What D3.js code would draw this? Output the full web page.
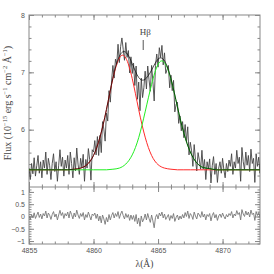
<!DOCTYPE html>
<html>
<head>
<meta charset="utf-8">
<script src="https://cdn.jsdelivr.net/npm/d3@7"></script>
<style>
  body { margin: 0; background: #fff; }
  .tick text { font-family: "Liberation Sans", Arial, sans-serif; font-size: 7px; fill: #555; }
  .tick line { stroke: #888; }
  .domain { display: none; }
</style>
</head>
<body>
<svg id="chart" width="274" height="274"></svg>
<script>
// observed spectrum, 0.1 A steps from 4855.0 to 4873.0
var specStart = 4855.0, specStep = 0.1;
var flux = [
  5.33, 5.13, 5.41, 5.23, 5.51, 5.19, 5.37, 5.55, 5.24, 5.44,
  5.16, 5.47, 5.33, 5.61, 5.22, 5.50, 5.37, 5.13, 5.41, 5.58,
  5.27, 5.44, 5.10, 5.38, 5.65, 5.36, 5.52, 5.19, 5.47, 5.33,
  5.55, 5.22, 5.61, 5.41, 5.16, 5.51, 5.28, 5.68, 5.40, 5.22,
  5.50, 5.34, 5.57, 5.10, 5.48, 5.33, 5.67, 5.48, 5.12, 5.65,
  5.61, 5.81, 5.56, 5.88, 5.55, 5.90, 5.60, 6.14, 6.01, 5.80,
  6.29, 6.15, 6.68, 6.48, 6.85, 7.12, 6.90, 7.23, 7.14, 7.49,
  7.17, 7.45, 7.60, 7.40, 7.21, 7.52, 7.26, 7.38, 6.99, 7.27,
  6.98, 7.16, 6.77, 7.11, 6.53, 6.83, 6.33, 6.90, 6.56, 6.73,
  7.02, 6.71, 7.11, 6.87, 6.67, 7.12, 6.84, 6.50, 7.12, 7.32,
  7.09, 7.43, 7.26, 7.47, 7.13, 7.34, 6.98, 7.05, 7.12, 6.73,
  6.95, 6.68, 6.86, 6.31, 6.44, 6.48, 6.11, 6.24, 5.98, 6.14,
  5.86, 6.09, 5.80, 6.05, 5.56, 5.78, 5.63, 5.36, 5.74, 5.48,
  5.28, 5.60, 5.47, 5.31, 5.64, 5.31, 5.48, 5.13, 5.44, 5.32,
  5.49, 5.07, 5.37, 5.53, 5.22, 5.41, 5.08, 5.33, 5.44, 5.24,
  5.50, 5.30, 5.16, 5.41, 5.27, 5.47, 5.36, 5.58, 5.22, 5.44,
  5.33, 5.64, 5.41, 5.52, 5.10, 5.69, 5.44, 5.30, 5.61, 5.38,
  5.55, 5.27, 5.66, 5.41, 5.50, 5.08, 5.58, 5.36, 5.52, 5.24,
  5.47
];
var residual = [
  0.02, -0.12, 0.08, -0.05, 0.15, -0.08, 0.05, 0.18, -0.04, 0.10,
  -0.10, 0.12, 0.02, 0.22, -0.06, 0.14, 0.05, -0.12, 0.08, 0.20,
  -0.02, 0.10, -0.14, 0.06, 0.25, 0.04, 0.16, -0.08, 0.12, 0.02,
  0.18, -0.06, 0.22, 0.08, -0.10, 0.14, -0.02, 0.26, 0.06, -0.08,
  0.12, 0.00, 0.16, -0.14, 0.08, -0.04, 0.18, 0.02, -0.14, 0.10,
  0.04, 0.14, -0.08, 0.10, -0.18, 0.02, -0.26, 0.06, -0.10, -0.32,
  -0.04, -0.22, 0.08, -0.14, 0.04, 0.16, -0.06, 0.12, 0.00, 0.20,
  -0.08, 0.10, 0.22, 0.04, -0.10, 0.12, -0.04, 0.08, -0.16, 0.06,
  -0.12, 0.04, -0.20, 0.08, -0.30, -0.06, -0.40, 0.02, -0.22, -0.10,
  0.10, -0.14, 0.12, -0.08, -0.24, 0.06, -0.18, -0.46, -0.04, 0.08,
  -0.10, 0.14, 0.02, 0.18, -0.06, 0.10, -0.12, -0.02, 0.08, -0.16,
  0.04, -0.08, 0.12, -0.20, -0.04, 0.06, -0.14, 0.02, -0.10, 0.08,
  -0.06, 0.16, 0.00, 0.22, -0.08, 0.12, 0.04, -0.12, 0.18, 0.02,
  -0.10, 0.14, 0.06, -0.04, 0.20, -0.02, 0.10, -0.14, 0.08, 0.00,
  0.12, -0.18, 0.04, 0.16, -0.06, 0.08, -0.16, 0.02, 0.10, -0.04,
  0.14, 0.00, -0.10, 0.08, -0.02, 0.12, 0.04, 0.20, -0.06, 0.10,
  0.02, 0.24, 0.08, 0.16, -0.14, 0.28, 0.10, 0.00, 0.22, 0.06,
  0.18, -0.02, 0.26, 0.08, 0.14, -0.16, 0.20, 0.04, 0.16, -0.04,
  0.12
];

// model components, 0.5 A steps from 4855 to 4873
var modelStart = 4855.0, modelStep = 0.5;
var redComp = [
  5.30, 5.30, 5.30, 5.30, 5.30, 5.30, 5.30,
  5.31, 5.33, 5.39, 5.55, 5.87, 6.35, 6.89, 7.25, 7.25, 6.89, 6.35, 5.87, 5.55, 5.39, 5.33, 5.31,
  5.30, 5.30, 5.30, 5.30, 5.30, 5.30, 5.30, 5.30, 5.30, 5.30, 5.30, 5.30, 5.30, 5.30
];
var greenComp = [
  5.30, 5.30, 5.30, 5.30, 5.30, 5.30, 5.30, 5.30, 5.30, 5.30, 5.30, 5.30,
  5.30, 5.31, 5.33, 5.40, 5.56, 5.86, 6.31, 6.79, 7.14, 7.17, 6.88, 6.40, 5.94, 5.61, 5.42, 5.34, 5.32,
  5.30, 5.30, 5.30, 5.30, 5.30, 5.30, 5.30, 5.30
];
var fitTotal = [
  5.30, 5.30, 5.30, 5.30, 5.30, 5.30, 5.30,
  5.31, 5.33, 5.39, 5.55, 5.87, 6.35, 6.90, 7.28, 7.35, 7.15, 6.91, 6.88, 7.04, 7.23, 7.20, 6.89,
  6.40, 5.94, 5.61, 5.42, 5.34, 5.32,
  5.30, 5.30, 5.30, 5.30, 5.30, 5.30, 5.30, 5.30
];

var hbetaWave = 4863.85;
var xTicks = [4855, 4860, 4865, 4870];
var yTopTicks = [6, 7, 8];
var yBotTicks = [-1, -0.5, 0, 0.5, 1];

var svg = d3.select("#chart");
var padL = 29, padR = 260, padT = 15, padM = 187, padB = 244;

var x = d3.scaleLinear().domain([4855, 4872.9]).range([padL, padR]);
var yTop = d3.scaleLinear().domain([5.0, 8]).range([padM, padT]);
var yBot = d3.scaleLinear().domain([-1.12, 1.2]).range([padB, padM]);

function waves(start, step, n) {
  return d3.range(n).map(function(i){ return +(start + i * step).toFixed(2); });
}
var specWave = waves(specStart, specStep, flux.length);
var modelWave = waves(modelStart, modelStep, fitTotal.length);

var defs = svg.append("defs");
defs.append("clipPath").attr("id", "clipTop")
  .append("rect").attr("x", padL).attr("y", padT).attr("width", padR - padL).attr("height", padM - padT);
defs.append("clipPath").attr("id", "clipBot")
  .append("rect").attr("x", padL).attr("y", padM).attr("width", padR - padL).attr("height", padB - padM);

// axes: inward ticks on all four sides of each panel
function addAxes(yScale, y0, y1, majors, minors, fmt) {
  var minorX = d3.range(4855, 4873, 1);
  svg.append("g").attr("transform", "translate(0," + y1 + ")")
    .call(d3.axisTop(x).tickValues(xTicks).tickSize(-5).tickFormat(""));
  svg.append("g").attr("transform", "translate(0," + y1 + ")")
    .call(d3.axisTop(x).tickValues(minorX).tickSize(-2.5).tickFormat(""));
  svg.append("g").attr("transform", "translate(0," + y0 + ")")
    .call(d3.axisBottom(x).tickValues(minorX).tickSize(-2.5).tickFormat(""));
  svg.append("g").attr("transform", "translate(" + padL + ",0)")
    .call(d3.axisLeft(yScale).tickValues(majors).tickSize(-5).tickPadding(4).tickFormat(fmt));
  svg.append("g").attr("transform", "translate(" + padL + ",0)")
    .call(d3.axisLeft(yScale).tickValues(minors).tickSize(-2.5).tickFormat(""));
  svg.append("g").attr("transform", "translate(" + padR + ",0)")
    .call(d3.axisRight(yScale).tickValues(majors).tickSize(-5).tickFormat(""));
  svg.append("g").attr("transform", "translate(" + padR + ",0)")
    .call(d3.axisRight(yScale).tickValues(minors).tickSize(-2.5).tickFormat(""));
}

addAxes(yTop, padM, padT, yTopTicks, d3.range(5.2, 8, 0.2).map(function(v){ return +v.toFixed(1); }), d3.format("d"));
svg.append("g").attr("transform", "translate(0," + padM + ")")
  .call(d3.axisBottom(x).tickValues(xTicks).tickSize(-5).tickFormat(""));

addAxes(yBot, padB, padM, yBotTicks, d3.range(-1.1, 1.2, 0.1).map(function(v){ return +v.toFixed(1); }),
  function(v){ return v < 0 ? "\u2212" + Math.abs(v) : "" + v; });
svg.append("g").attr("transform", "translate(0," + padB + ")")
  .call(d3.axisBottom(x).tickValues(xTicks).tickSize(-5).tickPadding(4).tickFormat(d3.format("d")));

svg.append("rect").attr("x", padL).attr("y", padT).attr("width", padR - padL).attr("height", padB - padT)
  .attr("fill", "none").attr("stroke", "#888").attr("stroke-width", 1);
svg.append("line").attr("x1", padL).attr("x2", padR).attr("y1", padM).attr("y2", padM)
  .attr("stroke", "#888").attr("stroke-width", 1);

// spectrum and model
var specLine = d3.line().x(function(d, i){ return x(specWave[i]); }).y(function(d){ return yTop(d); });
var modelLine = d3.line().curve(d3.curveNatural)
  .x(function(d, i){ return x(modelWave[i]); }).y(function(d){ return yTop(d); });
var resLine = d3.line().x(function(d, i){ return x(specWave[i]); }).y(function(d){ return yBot(d); });

var gTop = svg.append("g").attr("clip-path", "url(#clipTop)");
gTop.append("path").attr("d", specLine(flux)).attr("fill", "none").attr("stroke", "#444").attr("stroke-width", 0.9);
gTop.append("path").attr("d", modelLine(redComp)).attr("fill", "none").attr("stroke", "#ff2a2a").attr("stroke-width", 1);
gTop.append("path").attr("d", modelLine(greenComp)).attr("fill", "none").attr("stroke", "#22ee22").attr("stroke-width", 1);
gTop.append("path").attr("d", modelLine(fitTotal)).attr("fill", "none").attr("stroke", "#000").attr("stroke-width", 0.7);

svg.append("g").attr("clip-path", "url(#clipBot)")
  .append("path").attr("d", resLine(residual)).attr("fill", "none").attr("stroke", "#777").attr("stroke-width", 0.9);

// H-beta marker
svg.append("line").attr("x1", x(hbetaWave)).attr("x2", x(hbetaWave)).attr("y1", 40).attr("y2", 50)
  .attr("stroke", "#555").attr("stroke-width", 1);
svg.append("text").attr("x", x(hbetaWave) + 2).attr("y", 35).attr("text-anchor", "middle")
  .attr("font-family", "Liberation Serif, serif").attr("font-size", 9).attr("fill", "#444")
  .text("H\u03B2");

// axis titles
svg.append("text").attr("x", (padL + padR) / 2).attr("y", 267).attr("text-anchor", "middle")
  .attr("font-family", "Liberation Serif, serif").attr("font-size", 9.5).attr("fill", "#444")
  .text("\u03BB(\u00C5)");

var yl = svg.append("text").attr("transform", "translate(11,103) rotate(-90)").attr("text-anchor", "middle")
  .attr("font-family", "Liberation Serif, serif").attr("font-size", 10).attr("fill", "#444");
var parts = [["Flux (10", 0], ["\u221215", 1], [" erg s", 0], ["\u22121", 1], [" cm", 0], ["\u22122", 1], [" \u00C5", 0], ["\u22121", 1], [")", 0]];
var prev = 0;
parts.forEach(function(p){
  var shift = p[1] ? -3.8 : 0;
  yl.append("tspan").attr("dy", shift - prev).attr("font-size", p[1] ? 6.5 : 10).text(p[0]);
  prev = shift;
});
</script>
</body>
</html>
